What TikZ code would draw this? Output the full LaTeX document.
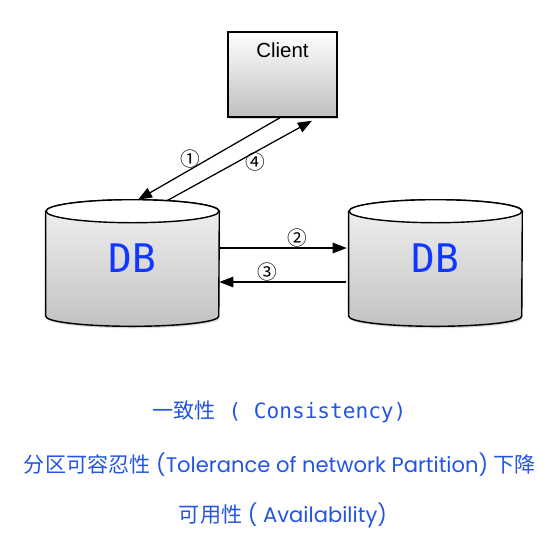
\documentclass[tikz,border=0pt]{standalone}
\usepackage{fontspec}
\newfontfamily\cjkfont{Noto Sans CJK SC}
\newfontfamily\geofont{Poppins}
\newfontfamily\monofont{DejaVu Sans Mono}
\newfontfamily\helvfont{Liberation Sans}
\usetikzlibrary{arrows.meta,positioning,calc,backgrounds,shadows}
\definecolor{capblue}{RGB}{35,85,225}
\definecolor{dbblue}{RGB}{15,55,255}

\begin{document}
\begin{tikzpicture}[x=0.025cm,y=0.025cm,
 dbbox/.style={minimum width=4.325cm,minimum height=3.15cm,inner sep=0pt},
 dbtext/.style={text=dbblue,font=\monofont\fontsize{28}{30}\selectfont,yshift=3.5pt},
 shadowed/.style={drop shadow={shadow xshift=0.6pt,shadow yshift=-1.4pt,opacity=0.3}},
 num/.style={font=\cjkfont\fontsize{14}{15}\selectfont,inner sep=0.3pt},
 arr/.style={-{Triangle[length=10pt,width=7.5pt]},line width=0.9pt},
 captext/.style={text=capblue,font=\fontsize{15}{18}\selectfont}]
\useasboundingbox (0,0) rectangle (558,-542);
\node[draw,line width=1pt,minimum width=2.725cm,minimum height=2.125cm,top color=white,bottom color=black!25,shadowed,
 label={[anchor=north,yshift=-7.8pt,inner sep=0pt,font=\helvfont\fontsize{14.5}{16}\selectfont]north:Client}] (client) at (282.5,-74.5) {};
\node[dbbox,label={[dbtext]center:DB}] (dbL) at (132.5,-263) {};
\node[dbbox,label={[dbtext]center:DB}] (dbR) at (435.5,-263) {};
\begin{scope}[on background layer]
\foreach \n in {dbL,dbR}{
 \shade[draw,line width=1pt,top color=black!5,bottom color=black!24,shadowed] ($(\n.north west)+(0,-11.5)$) -- ($(\n.south west)+(0,10)$)
  arc[start angle=180,end angle=360,x radius=2.1625cm,y radius=0.25cm] -- ($(\n.north east)+(0,-11.5)$)
  arc[start angle=0,end angle=180,x radius=2.1625cm,y radius=0.2875cm] -- cycle;
 \draw[line width=1pt,fill=white] ($(\n.north)+(0,-11.5)$) ellipse[x radius=2.1625cm,y radius=0.2875cm];
}
\end{scope}
% requests and replies
\draw[arr] ($(client.south)+(-2.5,0)$) -- node[num,pos=0.634,anchor=south]{①} ($(dbL.north)+(5.5,0)$);
\draw[arr] ($(dbL.north)+(34.5,-1)$) -- node[num,pos=0.607,anchor=north]{④} ($(client.south)+(29.5,-3)$);
\draw[arr] ($(dbL.east)+(0,15)$) -- node[num,pos=0.61,anchor=south]{②} ($(dbR.west)+(-2,15)$);
\draw[arr] ($(dbR.west)+(-3,-19)$) -- node[num,pos=0.62,anchor=south]{③} ($(dbL.east)+(0,-19)$);
% captions
\node[captext] (consist) at (279.5,-412) {{\cjkfont 一致性}{\monofont\ ( Consistency)}};
\node[captext] (partition) at (280,-465) {{\cjkfont 分区可容忍性}{\geofont\ (Tolerance of network Partition)\ }{\cjkfont 下降}};
\node[captext] (avail) at (283,-515) {{\cjkfont 可用性}{\geofont\ ( Availability)}};
\end{tikzpicture}
\end{document}
